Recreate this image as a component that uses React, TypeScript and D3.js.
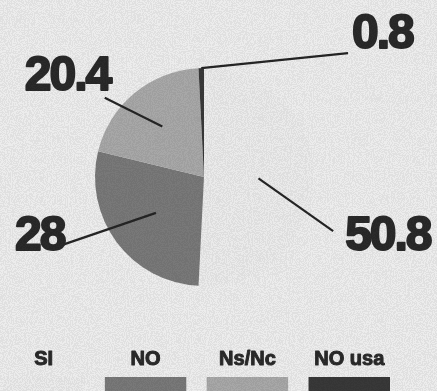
import React from "react";
import * as d3 from "d3";

const categories = ["SI", "NO", "Ns/Nc", "NO usa"];
const values = [50.8, 28, 20.4, 0.8];
const valueLabels = ["50.8", "28", "20.4", "0.8"];
const colors = ["#eeeeee", "#7b7b7b", "#ababab", "#383838"];

// layout (not data): leader-line outer end in polar coords (deg clockwise from top, radius), text offsets
const leaderLayout = [
  { angle: 112.7, radius: 140, dx: 12, dy: 19, anchor: "start", innerFrac: 0.5 },
  { angle: 244.4, radius: 157, dx: 2, dy: 5, anchor: "end", innerFrac: 0.55 },
  { angle: 308.6, radius: 127, dx: -80, dy: -8, anchor: "start", innerFrac: 0.6 },
  { angle: 49.3, radius: 190, dx: 4, dy: -5, anchor: "start", innerFrac: 1.0 },
];

const W = 437;
const H = 391;
const cx = 204;
const cy = 177;
const R = 109;

export default function App() {
  const pie = d3.pie<number>().sort(null).value((d) => d)(values);
  const arc = d3.arc<d3.PieArcDatum<number>>().innerRadius(0).outerRadius(R);

  const legendX = d3.scaleBand<string>().domain(categories).range([3, 390]).paddingInner(0.2).paddingOuter(0);

  return (
    <svg
      width={W}
      height={H}
      style={{ position: "absolute", left: 0, top: 0 }}
      viewBox={`0 0 ${W} ${H}`}
    >
      <defs>
        <filter id="grain" x="0" y="0" width={W} height={H} filterUnits="userSpaceOnUse">
          <feTurbulence type="fractalNoise" baseFrequency="0.95" numOctaves={1} seed={3} result="noise" />
          <feColorMatrix
            in="noise"
            type="matrix"
            values="0.33 0.33 0.33 0 0  0.33 0.33 0.33 0 0  0.33 0.33 0.33 0 0  0 0 0 0 1"
            result="gray"
          />
          <feComponentTransfer in="gray" result="thr">
            <feFuncR type="discrete" tableValues="0.74 0.86 0.96 1.0" />
            <feFuncG type="discrete" tableValues="0.74 0.86 0.96 1.0" />
            <feFuncB type="discrete" tableValues="0.74 0.86 0.96 1.0" />
          </feComponentTransfer>
          <feBlend in="SourceGraphic" in2="thr" mode="multiply" />
        </filter>
      </defs>
      <g filter="url(#grain)">
        <rect x={0} y={0} width={W} height={H} fill="#f0f0f0" />
        <g transform={`translate(${cx},${cy})`}>
          {pie.map((p, i) => (
            <path key={categories[i]} d={arc(p) || ""} fill={colors[i]} />
          ))}
          {pie.map((p, i) => {
            const L = leaderLayout[i];
            const mid = (p.startAngle + p.endAngle) / 2;
            const ri = R * L.innerFrac;
            const x1 = Math.sin(mid) * ri;
            const y1 = -Math.cos(mid) * ri;
            const a = (L.angle * Math.PI) / 180;
            const x2 = Math.sin(a) * L.radius;
            const y2 = -Math.cos(a) * L.radius;
            return (
              <g key={"l" + i}>
                <line x1={x1} y1={y1} x2={x2} y2={y2} stroke="#262626" strokeWidth={2.2} />
                <text
                  x={x2 + L.dx}
                  y={y2 + L.dy}
                  textAnchor={L.anchor as any}
                  fontFamily="'Liberation Sans', Arial, sans-serif"
                  fontWeight={700}
                  fontSize={48}
                  letterSpacing={-2}
                  fill="#2b2b2b"
                  stroke="#2b2b2b"
                  strokeWidth={2}
                  strokeLinejoin="round"
                >
                  {valueLabels[i]}
                </text>
              </g>
            );
          })}
        </g>
        {categories.map((c, i) => {
          const x = legendX(c)!;
          const w = legendX.bandwidth();
          return (
            <g key={"lg" + c}>
              <text
                x={x + w / 2}
                y={365}
                textAnchor="middle"
                fontFamily="'Liberation Sans', Arial, sans-serif"
                fontWeight={700}
                fontSize={20}
                fill="#2b2b2b"
                stroke="#2b2b2b"
                strokeWidth={1}
                strokeLinejoin="round"
              >
                {c}
              </text>
              <rect x={x} y={377} width={w} height={16} fill={colors[i]} />
            </g>
          );
        })}
      </g>
    </svg>
  );
}
